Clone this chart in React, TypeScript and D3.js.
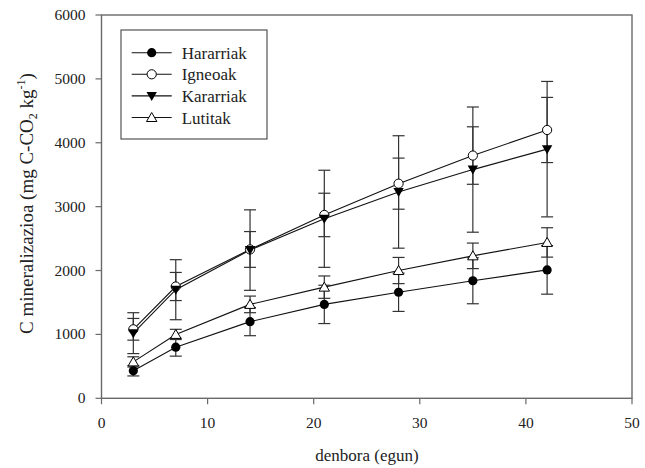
import React from "react";
import * as d3 from "d3";

// Incubation days
const days = [3, 7, 14, 21, 28, 35, 42];

// Mineralised C (mg C-CO2 kg-1) and standard deviations per rock type
const hararriak = [430, 800, 1200, 1470, 1660, 1840, 2010];
const hararriakErr = [80, 140, 220, 300, 300, 360, 380];
const igneoak = [1080, 1750, 2330, 2870, 3360, 3800, 4200];
const igneoakErr = [170, 220, 280, 340, 400, 450, 510];
const kararriak = [1020, 1700, 2320, 2810, 3230, 3580, 3900];
const kararriakErr = [320, 470, 630, 760, 880, 980, 1060];
const lutitak = [570, 1000, 1470, 1740, 2000, 2230, 2440];
const lutitakErr = [80, 80, 130, 175, 205, 200, 230];

const seriesNames = ["Hararriak", "Igneoak", "Kararriak", "Lutitak"];
const xTicks = [0, 10, 20, 30, 40, 50];
const yTicks = [0, 1000, 2000, 3000, 4000, 5000, 6000];

type Sym = "dot" | "circle" | "down" | "up";
const series: { name: string; values: number[]; err: number[]; sym: Sym }[] = [
  { name: seriesNames[0], values: hararriak, err: hararriakErr, sym: "dot" },
  { name: seriesNames[1], values: igneoak, err: igneoakErr, sym: "circle" },
  { name: seriesNames[2], values: kararriak, err: kararriakErr, sym: "down" },
  { name: seriesNames[3], values: lutitak, err: lutitakErr, sym: "up" },
];

const W = 645;
const H = 468;
const left = 101.5;
const right = 632;
const top = 15;
const bottom = 398.3;

const x = d3.scaleLinear().domain([0, 50]).range([left, right]);
const y = d3.scaleLinear().domain([0, 6000]).range([bottom, top]);

const SERIF = { fontFamily: '"Liberation Serif", "DejaVu Serif", serif' };
const AXIS = "#6a6a6a";

function Marker({ sym, cx, cy }: { sym: Sym; cx: number; cy: number }) {
  if (sym === "dot") return <circle cx={cx} cy={cy} r={4.6} fill="#000" />;
  if (sym === "circle")
    return <circle cx={cx} cy={cy} r={4.6} fill="#fff" stroke="#000" strokeWidth={1} />;
  if (sym === "down") {
    const p = `M${cx - 5.2},${cy - 4} L${cx + 5.2},${cy - 4} L${cx},${cy + 5} Z`;
    return <path d={p} fill="#000" />;
  }
  const p = `M${cx - 5.2},${cy + 4} L${cx + 5.2},${cy + 4} L${cx},${cy - 5} Z`;
  return <path d={p} fill="#fff" stroke="#000" strokeWidth={1} />;
}

export default function App() {
  const line = d3
    .line<number>()
    .x((_, i) => x(days[i]))
    .y((v) => y(v));

  return (
    <svg
      width={W}
      height={H}
      style={{ position: "absolute", left: 0, top: 0, background: "#fff" }}
    >
      <rect width={W} height={H} fill="#fff" />

      {/* frame */}
      <rect
        x={left}
        y={top}
        width={right - left}
        height={bottom - top}
        fill="none"
        stroke={AXIS}
        strokeWidth={1.4}
      />

      {/* y axis */}
      {yTicks.map((t) => (
        <g key={"y" + t}>
          <line x1={left - 6} x2={left} y1={y(t)} y2={y(t)} stroke={AXIS} strokeWidth={1.2} />
          <text x={left - 16} y={y(t) + 5} textAnchor="end" fontSize={15.5} fill="#222" style={SERIF}>
            {t}
          </text>
        </g>
      ))}

      {/* x axis */}
      {xTicks.map((t) => (
        <g key={"x" + t}>
          <line x1={x(t)} x2={x(t)} y1={bottom} y2={bottom + 6} stroke={AXIS} strokeWidth={1.2} />
          <text x={x(t)} y={428} textAnchor="middle" fontSize={15.5} fill="#222" style={SERIF}>
            {t}
          </text>
        </g>
      ))}

      <text x={367} y={461} textAnchor="middle" fontSize={17} fill="#222" style={SERIF}>
        denbora (egun)
      </text>

      <text
        transform={`translate(33,${203.5}) rotate(-90)`}
        textAnchor="middle"
        fontSize={19}
        fill="#222"
        style={SERIF}
      >
        C mineralizazioa (mg C-CO
        <tspan fontSize={12} dy={4}>2</tspan>
        <tspan dy={-4}> kg</tspan>
        <tspan fontSize={12} dy={-8}>-1</tspan>
        <tspan dy={8}>)</tspan>
      </text>

      {/* connecting lines */}
      {series.map((s) => (
        <path key={"l" + s.name} d={line(s.values) || ""} fill="none" stroke="#111" strokeWidth={1.1} />
      ))}

      {/* error bars */}
      {series.map((s) =>
        s.values.map((v, i) => {
          const cx = x(days[i]);
          const y1 = y(v - s.err[i]);
          const y2 = y(v + s.err[i]);
          return (
            <g key={"e" + s.name + i} stroke="#333" strokeWidth={1.2}>
              <line x1={cx} x2={cx} y1={y1} y2={y2} />
              <line x1={cx - 6} x2={cx + 6} y1={y1} y2={y1} />
              <line x1={cx - 6} x2={cx + 6} y1={y2} y2={y2} />
            </g>
          );
        })
      )}

      {/* markers */}
      {series.map((s) =>
        s.values.map((v, i) => (
          <Marker key={"m" + s.name + i} sym={s.sym} cx={x(days[i])} cy={y(v)} />
        ))
      )}

      {/* legend */}
      <rect x={121} y={30} width={146} height={109} fill="#fff" stroke="#444" strokeWidth={1.1} />
      {series.map((s, i) => {
        const ry = 52.7 + i * 21.6;
        return (
          <g key={"lg" + s.name}>
            <line x1={131.7} x2={171.7} y1={ry} y2={ry} stroke="#111" strokeWidth={1.1} />
            <Marker sym={s.sym} cx={151.7} cy={ry} />
            <text x={181.7} y={ry + 6} fontSize={17} fill="#222" style={SERIF}>
              {s.name}
            </text>
          </g>
        );
      })}
    </svg>
  );
}
